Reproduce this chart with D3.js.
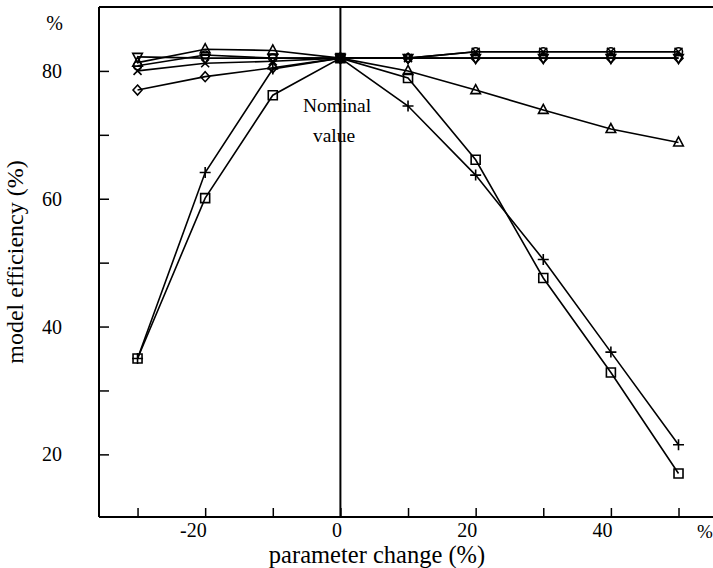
<!DOCTYPE html>
<html>
<head>
<meta charset="utf-8">
<script src="https://cdn.jsdelivr.net/npm/d3@7"></script>
<style>
  body { margin: 0; background: #fff; }
  svg { display: block; }
  text { font-family: "Liberation Serif", "Times New Roman", serif; fill: #000; }
</style>
</head>
<body>
<svg id="chart" width="713" height="568"></svg>
<script>
// Parameter perturbation (%) applied to each model parameter
const paramChange = [-30, -20, -10, 0, 10, 20, 30, 40, 50];

// Model efficiency (%) for each perturbed parameter
const effInvTriangle = [82.2, 82.0, 82.0, 82.0, 82.0, 82.0, 82.0, 82.0, 82.0];
const effTriangle    = [81.3, 83.4, 83.2, 82.0, 80.0, 77.0, 73.9, 70.9, 68.8];
const effCircle      = [80.8, 82.5, 82.0, 82.0, 82.0, 83.0, 83.0, 83.0, 83.0];
const effCross       = [80.0, 81.2, 81.5, 82.0, 82.0, 83.0, 83.0, 83.0, 83.0];
const effDiamond     = [77.0, 79.1, 80.5, 82.0, 82.0, 82.0, 82.0, 82.0, 82.0];
const effSquare      = [35.0, 60.1, 76.2, 82.0, 78.9, 66.1, 47.6, 32.8, 17.0];
const effPlus        = [35.0, 64.1, 80.3, 82.0, 74.5, 63.7, 50.5, 36.0, 21.5];

// Axis ticks and labels
const xTicks = [-30, -20, -10, 0, 10, 20, 30, 40, 50];
const xTickLabels = [-20, 0, 20, 40];
const yTicks = [20, 30, 40, 50, 60, 70, 80];
const yTickLabels = [20, 40, 60, 80];

const xTitle = "parameter change (%)";
const yTitle = "model efficiency (%)";
const unitLabel = "%";
const nominalLabel = ["Nominal", "value"];

// Series table: values paired with their marker symbol
const series = [
  { values: effInvTriangle, marker: "invTriangle" },
  { values: effTriangle,    marker: "triangle" },
  { values: effCircle,      marker: "circle" },
  { values: effCross,       marker: "cross" },
  { values: effDiamond,     marker: "diamond" },
  { values: effSquare,      marker: "square" },
  { values: effPlus,        marker: "plus" }
];

const svg = d3.select("#chart");
const plotLeft = 99, plotRight = 713, plotTop = 7, plotBottom = 517;

const x = d3.scaleLinear().domain([-35.7, 55.1]).range([plotLeft, plotRight]);
const y = d3.scaleLinear().domain([10.2, 90]).range([plotBottom, plotTop]);

// Marker outlines (unfilled, centred on the data point)
const markerPath = {
  square: "M-4.5,-4.5H4.5V4.5H-4.5Z",
  plus: "M-5.5,0H5.5M0,-5.5V5.5",
  cross: "M-4,-4L4,4M-4,4L4,-4",
  triangle: "M0,-5.5L4.8,3.5H-4.8Z",
  invTriangle: "M0,5.5L4.8,-3.5H-4.8Z",
  diamond: "M0,-5L4.5,0L0,5L-4.5,0Z",
  circle: "M4,0A4,4 0 1,1 -4,0A4,4 0 1,1 4,0Z"
};

// Frame: top border and the nominal-value vertical line
svg.append("line")
  .attr("x1", plotLeft).attr("x2", plotRight)
  .attr("y1", plotTop).attr("y2", plotTop)
  .attr("stroke", "#000").attr("stroke-width", 2);

svg.append("line")
  .attr("x1", x(0)).attr("x2", x(0))
  .attr("y1", plotTop).attr("y2", plotBottom)
  .attr("stroke", "#000").attr("stroke-width", 2);

// Y axis with inward ticks
const yAxis = d3.axisLeft(y)
  .tickValues(yTicks)
  .tickSizeInner(-10)
  .tickSizeOuter(0)
  .tickPadding(37)
  .tickFormat(d => yTickLabels.includes(d) ? String(d) : "");

const gy = svg.append("g")
  .attr("transform", `translate(${plotLeft},0)`)
  .call(yAxis);
gy.select(".domain").attr("stroke-width", 2).attr("d", `M0,${plotTop}V${plotBottom}`);
gy.selectAll(".tick line").attr("stroke-width", 1.5);
gy.selectAll(".tick text")
  .attr("font-size", 20)
  .attr("font-family", "Liberation Serif, serif")
  .attr("dy", "0.33em");

// X axis with inward ticks, labels set to the left of their tick
const xAxis = d3.axisBottom(x)
  .tickValues(xTicks)
  .tickSizeInner(-9)
  .tickSizeOuter(0)
  .tickFormat(d => xTickLabels.includes(d) ? String(d) : "");

const gx = svg.append("g")
  .attr("transform", `translate(0,${plotBottom})`)
  .call(xAxis);
gx.select(".domain").attr("stroke-width", 2).attr("d", `M${plotLeft},0H${plotRight}`);
gx.selectAll(".tick line").attr("stroke-width", 1.5);
gx.selectAll(".tick text")
  .attr("font-size", 20)
  .attr("font-family", "Liberation Serif, serif")
  .attr("text-anchor", "end")
  .attr("x", 1)
  .attr("y", 20)
  .attr("dy", 0);

// Unit labels at the axis ends
svg.append("text")
  .attr("x", 63).attr("y", 30)
  .attr("text-anchor", "end")
  .attr("font-size", 20)
  .text(unitLabel);

svg.append("text")
  .attr("x", 697).attr("y", 538)
  .attr("font-size", 19)
  .text(unitLabel);

// Axis titles
svg.append("text")
  .attr("x", 377).attr("y", 563)
  .attr("text-anchor", "middle")
  .attr("font-size", 24.5)
  .text(xTitle);

svg.append("text")
  .attr("transform", `translate(23,${(plotTop + plotBottom) / 2}) rotate(-90)`)
  .attr("text-anchor", "middle")
  .attr("font-size", 24)
  .text(yTitle);

// Nominal value annotation
svg.append("text")
  .attr("x", 337).attr("y", 112)
  .attr("text-anchor", "middle")
  .attr("font-size", 19.5)
  .text(nominalLabel[0]);
svg.append("text")
  .attr("x", 334).attr("y", 142)
  .attr("text-anchor", "middle")
  .attr("font-size", 19.5)
  .text(nominalLabel[1]);

// Series lines
const line = d3.line()
  .x((d, i) => x(paramChange[i]))
  .y(d => y(d));

svg.append("g").selectAll("path")
  .data(series)
  .join("path")
  .attr("d", s => line(s.values))
  .attr("fill", "none")
  .attr("stroke", "#000")
  .attr("stroke-width", 1.6);

// Series markers
const gm = svg.append("g");
series.forEach(s => {
  gm.append("g").selectAll("path")
    .data(s.values)
    .join("path")
    .attr("transform", (d, i) => `translate(${x(paramChange[i])},${y(d)})`)
    .attr("d", markerPath[s.marker])
    .attr("fill", "none")
    .attr("stroke", "#000")
    .attr("stroke-width", 1.6);
});
</script>
</body>
</html>
